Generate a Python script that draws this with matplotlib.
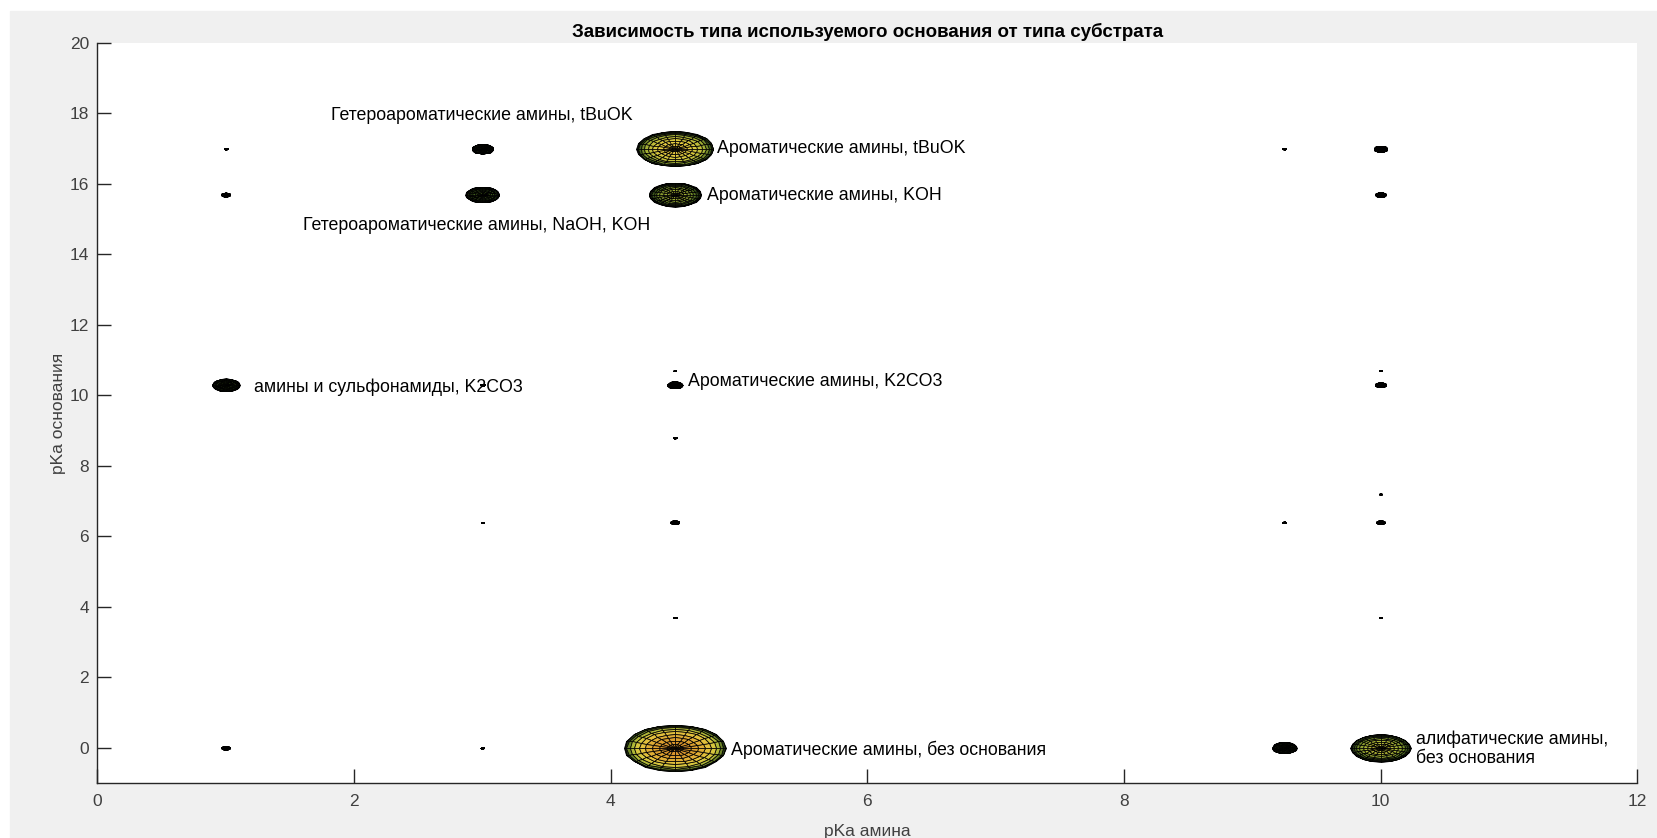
import numpy as np
import matplotlib
matplotlib.use("Agg")
import matplotlib.pyplot as plt
from matplotlib.colors import LinearSegmentedColormap
from matplotlib.patches import Rectangle

plt.rcParams['font.family'] = ['Liberation Sans', 'DejaVu Sans']

# pKa of the amine, pKa of the base, and relative weight (sphere radius, y units)
amine_pka = [1, 1, 1, 1,
             3, 3, 3, 3, 3,
             4.5, 4.5, 4.5, 4.5, 4.5, 4.5, 4.5, 4.5,
             9.25, 9.25, 9.25,
             10, 10, 10, 10, 10, 10, 10, 10]
base_pka = [17, 15.7, 10.3, 0,
            17, 15.7, 10.3, 6.4, 0,
            17, 15.7, 10.7, 10.3, 8.8, 6.4, 3.7, 0,
            17, 6.4, 0,
            17, 15.7, 10.7, 10.3, 7.2, 6.4, 3.7, 0]
radius = [0.025, 0.06, 0.18, 0.06,
          0.14, 0.22, 0.03, 0.02, 0.025,
          0.50, 0.34, 0.02, 0.10, 0.025, 0.06, 0.025, 0.66,
          0.025, 0.025, 0.16,
          0.09, 0.07, 0.02, 0.07, 0.02, 0.06, 0.02, 0.39]

labels = [
    (1.82, 17.93, "Гетероароматические амины, tBuOK"),
    (4.83, 17.0, "Ароматические амины, tBuOK"),
    (4.75, 15.66, "Ароматические амины, KOH"),
    (1.60, 14.81, "Гетероароматические амины, NaOH, KOH"),
    (1.22, 10.24, "амины и сульфонамиды, K2CO3"),
    (4.60, 10.39, "Ароматические амины, K2CO3"),
    (4.94, -0.07, "Ароматические амины, без основания"),
    (10.28, -0.03, "алифатические амины,\nбез основания"),
]

x_ticks = [0, 2, 4, 6, 8, 10, 12]
y_ticks = [0, 2, 4, 6, 8, 10, 12, 14, 16, 18, 20]

# surface colour follows the height of the sphere cap, shared across all spheres
sphere_cmap = LinearSegmentedColormap.from_list(
    "sphere", [(0.0, "#000000"), (0.15, "#16240a"), (0.3, "#46661e"),
               (0.5, "#a8b436"), (0.7, "#e6cc40"), (1.0, "#d8902a")])

fig = plt.figure(figsize=(16.57, 8.38), dpi=100, facecolor="white")
fig.patches.append(Rectangle((10 / 1657, 0), 1, 1 - 11 / 838,
                             transform=fig.transFigure, color="#f0f0f0", zorder=-10))
ax = fig.add_axes([0.0588, 0.0656, 0.9292, 0.8831])
ax.set_facecolor("white")

# upper hemisphere of a sphere seen from above: 20 meridians, 10 parallels
theta = np.linspace(0, 2 * np.pi, 21)
phi = np.linspace(0, np.pi / 2, 11)
ring = np.cos(phi)
cap = np.sin(0.5 * (phi[:-1] + phi[1:]))
aspect = 0.6
zmax = max(radius)

for x0, y0, r in zip(amine_pka, base_pka, radius):
    X = x0 + aspect * r * np.outer(ring, np.cos(theta))
    Y = y0 + r * np.outer(ring, np.sin(theta))
    C = np.tile((r * cap)[:, None], (1, 20))
    ax.pcolormesh(X, Y, C, cmap=sphere_cmap, vmin=0, vmax=zmax, shading="flat",
                  edgecolors="black", linewidth=0.55, antialiased=True, zorder=3)

for x, y, s in labels:
    ax.text(x, y, s, ha="left", va="center", fontsize=12.8, color="black",
            linespacing=1.15, zorder=4)

ax.set_xlim(0, 12)
ax.set_ylim(-1, 20)
ax.set_xticks(x_ticks)
ax.set_yticks(y_ticks)
for side in ("top", "right"):
    ax.spines[side].set_visible(False)
for side in ("left", "bottom"):
    ax.spines[side].set_color("#262626")
    ax.spines[side].set_linewidth(1.0)
ax.tick_params(direction="in", length=10, width=1.0, color="#262626",
               labelsize=12.5, labelcolor="#404040")
ax.tick_params(axis="x", pad=8)
ax.tick_params(axis="y", pad=6)
ax.set_xlabel("pKa амина", fontsize=12.5, color="#404040", labelpad=10.5)
ax.set_ylabel("pKa основания", fontsize=12.5, color="#404040", labelpad=3)
ax.set_title("Зависимость типа используемого основания от типа субстрата",
             fontsize=13.5, fontweight="bold", color="black", pad=4)

fig.savefig("out.png", dpi=100, facecolor=fig.get_facecolor())
